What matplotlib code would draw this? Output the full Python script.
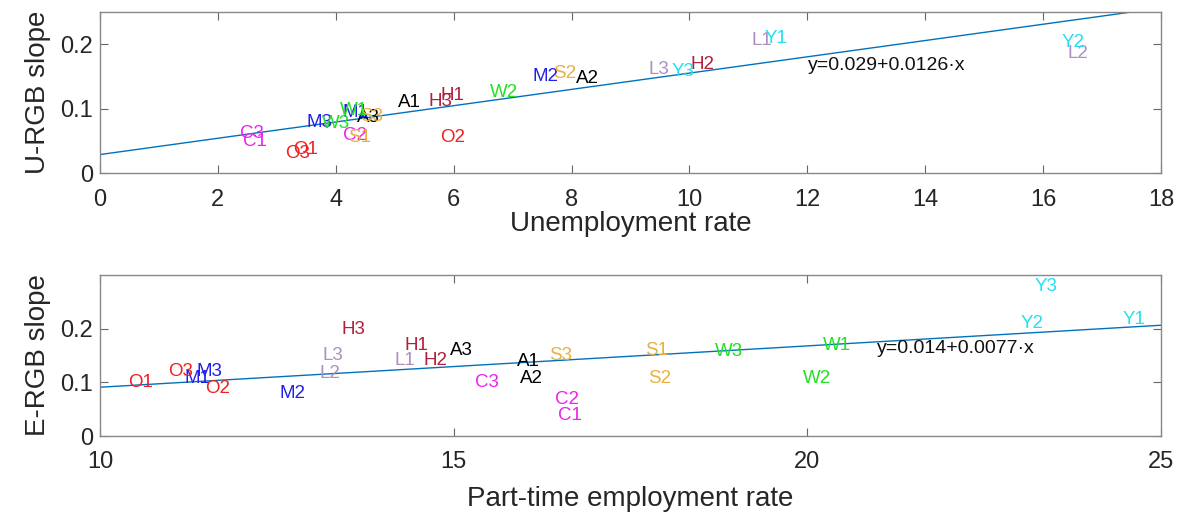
import numpy as np
import matplotlib
matplotlib.use("Agg")
import matplotlib.pyplot as plt

plt.rcParams["font.family"] = ["Liberation Sans", "DejaVu Sans"]

codes = ["A1", "A2", "A3", "C1", "C2", "C3", "H1", "H2", "H3",
         "L1", "L2", "L3", "M1", "M2", "M3", "O1", "O2", "O3",
         "S1", "S2", "S3", "W1", "W2", "W3", "Y1", "Y2", "Y3"]

# top panel: unemployment rate vs U-RGB slope
u_rate = [5.06, 8.08, 4.36, 2.43, 4.12, 2.38, 5.77, 10.01, 5.57,
          11.06, 16.42, 9.30, 4.11, 7.33, 3.51, 3.27, 5.77, 3.14,
          4.21, 7.69, 4.41, 4.07, 6.62, 3.77, 11.27, 16.32, 9.70]
u_slope = [0.109, 0.146, 0.086, 0.049, 0.058, 0.062, 0.120, 0.169, 0.111,
           0.205, 0.186, 0.160, 0.094, 0.149, 0.078, 0.037, 0.055, 0.031,
           0.055, 0.154, 0.088, 0.097, 0.125, 0.077, 0.208, 0.203, 0.158]

# bottom panel: part-time employment rate vs E-RGB slope
p_rate = [15.90, 15.94, 14.95, 16.47, 16.43, 15.30, 14.30, 14.58, 13.42,
          14.17, 13.11, 13.14, 11.20, 12.54, 11.37, 10.40, 11.48, 10.96,
          17.71, 17.75, 16.35, 20.22, 19.94, 18.69, 24.46, 23.01, 23.22]
e_slope = [0.138, 0.108, 0.159, 0.039, 0.069, 0.099, 0.168, 0.140, 0.198,
           0.140, 0.116, 0.150, 0.108, 0.079, 0.120, 0.099, 0.088, 0.120,
           0.159, 0.108, 0.151, 0.168, 0.108, 0.157, 0.217, 0.209, 0.279]

u_fit = (0.029, 0.0126)
e_fit = (0.014, 0.0077)

colors = {"A": "#000000", "C": "#ee22ee", "H": "#b0203c", "L": "#ad8fc0",
          "M": "#2020e8", "O": "#f02020", "S": "#e8b040", "W": "#22e022",
          "Y": "#22e0f0"}

fig = plt.figure(figsize=(11.86, 5.13), dpi=100)
ax1 = fig.add_axes([0.0843, 0.6622, 0.8946, 0.315])
ax2 = fig.add_axes([0.0843, 0.150, 0.8946, 0.3138])


def panel(ax, xs, ys, fit, xlim, ylim, xticks, xlabel, ylabel, eq_pos, xpad):
    for c, x, y in zip(codes, xs, ys):
        ax.text(x, y, c, color=colors[c[0]], fontsize=13.5, ha="left", va="center")
    xx = np.array(xlim, dtype=float)
    ax.plot(xx, fit[0] + fit[1] * xx, color="#0072BD", lw=1)
    ax.text(eq_pos[0], eq_pos[1], "y=%g+%g\u00b7x" % fit, fontsize=14, color="#111111",
            ha="left", va="center")
    ax.set_xlim(xlim)
    ax.set_ylim(ylim)
    ax.set_xticks(xticks)
    ax.set_yticks([0, 0.1, 0.2])
    ax.set_yticklabels(["0", "0.1", "0.2"])
    ax.set_xlabel(xlabel, fontsize=20, color="#262626", labelpad=xpad)
    ax.set_ylabel(ylabel, fontsize=20, color="#262626", labelpad=7)
    ax.tick_params(axis="x", pad=11)
    ax.tick_params(axis="y", pad=5)
    ax.tick_params(direction="in", length=6, width=0.8, color="#666666",
                   labelsize=17, labelcolor="#262626", top=True, right=True)
    for s in ax.spines.values():
        s.set_color("#888888")
        s.set_linewidth(1)


panel(ax1, u_rate, u_slope, u_fit, (0, 18), (0, 0.25), range(0, 19, 2),
      "Unemployment rate", "U-RGB slope", (12.01, 0.166), 0)
panel(ax2, p_rate, e_slope, e_fit, (10, 25), (0, 0.3), [10, 15, 20, 25],
      "Part-time employment rate", "E-RGB slope", (20.99, 0.164), 9)

fig.savefig("out.png")
plt.close(fig)
